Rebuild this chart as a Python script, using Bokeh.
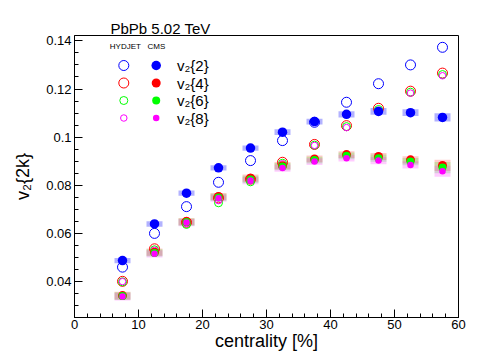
from bokeh.plotting import figure
from bokeh.models import Range1d, FixedTicker, CustomJSTickFormatter
from bokeh.core.properties import value
from bokeh.embed import file_html
from bokeh.resources import INLINE

# ---------------- data ----------------
centrality = [7.5, 12.5, 17.5, 22.5, 27.5, 32.5, 37.5, 42.5, 47.5, 52.5, 57.5]

# HYDJET (open markers)
hyd_v22 = [0.0461, 0.0601, 0.0712, 0.0813, 0.0903, 0.0986, 0.1062, 0.1145, 0.1222, 0.1300, 0.1373]
hyd_v24 = [0.0402, 0.0537, 0.0647, 0.0748, 0.0826, 0.0896, 0.0970, 0.1048, 0.1120, 0.1191, 0.1266]
hyd_v26 = [0.0400, 0.0533, 0.0638, 0.0728, 0.0815, 0.0892, 0.0967, 0.1044, 0.1115, 0.1187, 0.1260]
hyd_v28 = [0.0401, 0.0531, 0.0642, 0.0737, 0.0820, 0.0890, 0.0966, 0.1040, 0.1112, 0.1183, 0.1255]

# CMS (filled markers)
cms_v22 = [0.0488, 0.0640, 0.0768, 0.0873, 0.0955, 0.1021, 0.1065, 0.1095, 0.1107, 0.1102, 0.1082]
cms_v24 = [0.0343, 0.0523, 0.0650, 0.0754, 0.0830, 0.0882, 0.0910, 0.0928, 0.0920, 0.0906, 0.0883]
cms_v26 = [0.0341, 0.0520, 0.0648, 0.0750, 0.0825, 0.0878, 0.0905, 0.0923, 0.0913, 0.0899, 0.0874]
cms_v28 = [0.0339, 0.0516, 0.0646, 0.0747, 0.0820, 0.0872, 0.0899, 0.0913, 0.0903, 0.0885, 0.0859]

# CMS systematic uncertainties (half height)
cms_v22_sys = [0.0011, 0.0011, 0.0011, 0.0011, 0.0011, 0.0012, 0.0012, 0.0013, 0.0014, 0.0014, 0.0017]
cms_v2k_sys = [0.0016, 0.0015, 0.0015, 0.0015, 0.0015, 0.0015, 0.0014, 0.0014, 0.0015, 0.0015, 0.0023]

x_ticks = [0, 10, 20, 30, 40, 50, 60]
x_minor = [0, 2, 4, 6, 8, 10, 12, 14, 16, 18, 20, 22, 24, 26, 28, 30, 32, 34, 36, 38, 40,
           42, 44, 46, 48, 50, 52, 54, 56, 58, 60]
y_ticks = [0.04, 0.06, 0.08, 0.10, 0.12, 0.14]
y_minor = [0.03, 0.035, 0.04, 0.045, 0.05, 0.055, 0.06, 0.065, 0.07, 0.075, 0.08, 0.085,
           0.09, 0.095, 0.10, 0.105, 0.11, 0.115, 0.12, 0.125, 0.13, 0.135, 0.14]

series_labels = ["v\u2082{2}", "v\u2082{4}", "v\u2082{6}", "v\u2082{8}"]

# ---------------- layout / style ----------------
FONT = "Liberation Sans"
X0, X1 = 0.0, 60.0
Y0, Y1 = 0.0252, 0.1422
W, H = 498, 353
ML, MR, MT, MB = 74, 40, 35, 36
FW, FH = W - ML - MR, H - MT - MB

colors = ["#0000ff", "#ff0000", "#00ff00", "#ff00ff"]
open_sizes = [10, 10, 8, 6.5]
fill_sizes = [9.5, 9, 8, 6.5]
BOX_W = 2.5

p = figure(width=W, height=H, x_range=Range1d(X0, X1), y_range=Range1d(Y0, Y1),
           output_backend="svg", toolbar_location=None,
           min_border_left=ML, min_border_right=MR, min_border_top=MT, min_border_bottom=MB,
           background_fill_color="white", border_fill_color="white")

p.title.text = "PbPb 5.02 TeV"
p.title.text_font = FONT
p.title.text_font_size = "15px"
p.title.text_font_style = "normal"
p.title.text_color = "black"
p.title.align = "left"
p.title.offset = 36
p.title.standoff = -2

p.grid.visible = False
p.outline_line_color = "black"
p.outline_line_width = 1

p.xaxis.ticker = FixedTicker(ticks=x_ticks, minor_ticks=x_minor)
p.yaxis.ticker = FixedTicker(ticks=y_ticks, minor_ticks=y_minor)
p.yaxis.formatter = CustomJSTickFormatter(code="return parseFloat(tick.toFixed(3)).toString();")
p.xaxis.formatter = CustomJSTickFormatter(code="return Math.round(tick).toString();")

for ax in (p.xaxis[0], p.yaxis[0]):
    ax.major_tick_in = 8
    ax.major_tick_out = 0
    ax.minor_tick_in = 4
    ax.minor_tick_out = 0
    ax.axis_line_color = "black"
    ax.major_tick_line_color = "black"
    ax.minor_tick_line_color = "black"
    ax.major_label_text_font = FONT
    ax.major_label_text_font_size = "13px"
    ax.major_label_text_color = "black"
    ax.major_label_standoff = 3
    ax.axis_label_text_font = FONT
    ax.axis_label_text_font_size = "18px"
    ax.axis_label_text_font_style = "normal"
    ax.axis_label_text_color = "black"

p.xaxis.major_label_standoff = 2
p.xaxis.axis_label = "centrality [%]"
p.xaxis.axis_label_standoff = -1
p.yaxis.axis_label = "v\u2082{2k}"
p.yaxis.axis_label_standoff = 10

# ---------------- systematic boxes ----------------
p.rect(x=centrality, y=cms_v22, width=BOX_W, height=[2 * s for s in cms_v22_sys],
       fill_color=colors[0], fill_alpha=0.3, line_color=None)
for vals, c in zip([cms_v24, cms_v26, cms_v28], colors[1:]):
    p.rect(x=centrality, y=vals, width=BOX_W, height=[2 * s for s in cms_v2k_sys],
           fill_color=c, fill_alpha=0.2, line_color=None)

# ---------------- HYDJET open markers ----------------
for vals, c, s in zip([hyd_v24, hyd_v26, hyd_v28, hyd_v22],
                      [colors[1], colors[2], colors[3], colors[0]],
                      [open_sizes[1], open_sizes[2], open_sizes[3], open_sizes[0]]):
    p.scatter(x=centrality, y=vals, marker="circle", size=s, fill_color="white",
              fill_alpha=0.0, line_color=c, line_width=1)

# ---------------- CMS filled markers ----------------
for vals, c, s in zip([cms_v22, cms_v24, cms_v26, cms_v28], colors, fill_sizes):
    p.scatter(x=centrality, y=vals, marker="circle", size=s, fill_color=c,
              line_color=None)

# ---------------- legend (frame pixel offsets -> data) ----------------
def dx(px):
    return X0 + px / FW * (X1 - X0)

def dy(py):
    return Y1 - py / FH * (Y1 - Y0)

leg_open_x, leg_fill_x, leg_text_x = 49.3, 81.7, 102.5
leg_rows = [30.0, 47.5, 65.0, 82.5]
p.text(x=[dx(35.3), dx(73.0)], y=[dy(11.0), dy(11.0)], text=["HYDJET", "CMS"],
       text_font=value(FONT), text_font_size="8px", text_color="black",
       text_baseline="middle", text_align="left")
for i in range(4):
    yy = dy(leg_rows[i])
    p.scatter(x=[dx(leg_open_x)], y=[yy], marker="circle", size=open_sizes[i],
              fill_alpha=0.0, line_color=colors[i], line_width=1)
    p.scatter(x=[dx(leg_fill_x)], y=[yy], marker="circle", size=fill_sizes[i],
              fill_color=colors[i], line_color=None)
p.text(x=[dx(leg_text_x)] * 4, y=[dy(r) for r in leg_rows], text=series_labels,
       text_font=value(FONT), text_font_size="15px", text_color="black",
       text_baseline="middle", text_align="left")

open("out.html", "w").write(file_html(p, INLINE))
